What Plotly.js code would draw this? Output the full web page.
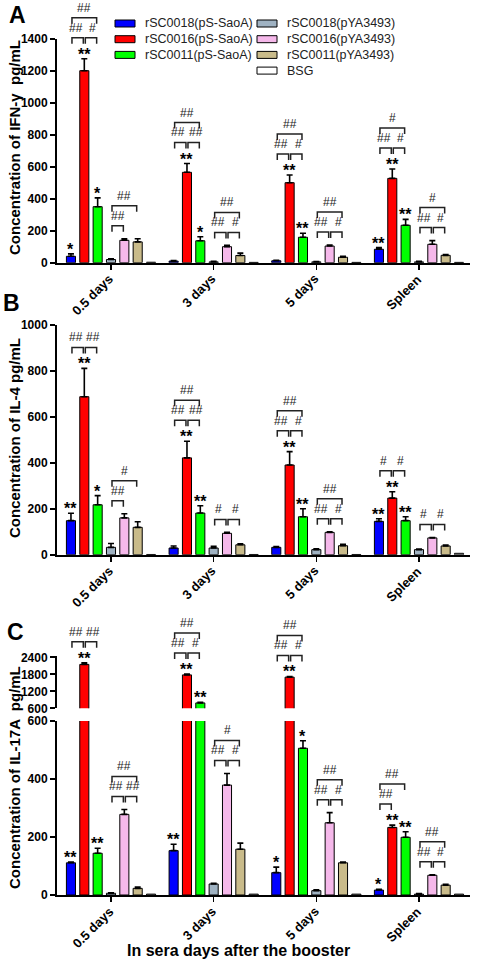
<!DOCTYPE html>
<html><head><meta charset="utf-8">
<script src="https://cdn.plot.ly/plotly-3.0.1.min.js"></script>
<style>html,body{margin:0;padding:0;background:#fff}#chart{width:485px;height:969px}</style>
</head><body><div id="chart"></div>
<script>
// ---------- DATA ----------
const groups = ['0.5 days', '3 days', '5 days', 'Spleen'];
const seriesNames = ['rSC0018(pS-SaoA)', 'rSC0016(pS-SaoA)', 'rSC0011(pS-SaoA)',
                     'rSC0018(pYA3493)', 'rSC0016(pYA3493)', 'rSC0011(pYA3493)', 'BSG'];
const seriesColors = ['#0000ff', '#ff0000', '#00ff00', '#9fb2c2', '#f5b8ea', '#c9bb8a', '#ffffff'];

// Panel A: IFN-γ (pg/mL)
const ifn_S18 = [40, 10, 12, 84];     const ifn_S18_err = [15, 4, 3, 10];
const ifn_S16 = [1200, 565, 500, 527]; const ifn_S16_err = [75, 55, 48, 59];
const ifn_S11 = [350, 137, 159, 234]; const ifn_S11_err = [55, 25, 25, 37];
const ifn_Y18 = [20, 5, 5, 5];        const ifn_Y18_err = [5, 3, 2, 3];
const ifn_Y16 = [140, 100, 104, 115]; const ifn_Y16_err = [10, 8, 6, 23];
const ifn_Y11 = [130, 45, 34, 46];    const ifn_Y11_err = [20, 15, 6, 5];
const ifn_BSG = [3, 2, 2, 2];         const ifn_BSG_err = [0, 0, 0, 0];

// Panel B: IL-4 (pg/mL)
const il4_S18 = [148, 29, 32, 145];   const il4_S18_err = [32, 9, 3, 11];
const il4_S16 = [687, 421, 390, 246]; const il4_S16_err = [123, 72, 58, 28];
const il4_S11 = [217, 181, 165, 148]; const il4_S11_err = [40, 32, 35, 17];
const il4_Y18 = [32, 29, 22, 22];     const il4_Y18_err = [17, 7, 4, 3];
const il4_Y16 = [160, 93, 97, 73];    const il4_Y16_err = [18, 4, 3, 2];
const il4_Y11 = [119, 43, 39, 38];    const il4_Y11_err = [24, 4, 6, 4];
const il4_BSG = [1, 1, 1, 6];         const il4_BSG_err = [0, 0, 0, 0];

// Panel C: IL-17A (pg/mL)
const il17_S18 = [111, 153, 77, 17];     const il17_S18_err = [3, 22, 19, 3];
const il17_S16 = [2150, 1780, 1700, 233]; const il17_S16_err = [60, 30, 25, 8];
const il17_S11 = [144, 790, 506, 199];   const il17_S11_err = [17, 20, 26, 19];
const il17_Y18 = [6, 38, 15, 3];         const il17_Y18_err = [2, 2, 3, 2];
const il17_Y16 = [278, 379, 249, 68];    const il17_Y16_err = [17, 40, 35, 2];
const il17_Y11 = [23, 158, 111, 34];     const il17_Y11_err = [4, 21, 3, 3];
const il17_BSG = [3, 3, 3, 3];           const il17_BSG_err = [0, 0, 0, 0];

// Significance vs BSG (stars) for the pS-SaoA strains
const ifn_stars_S18 = ['*', '', '', '**'];
const ifn_stars_S16 = ['**', '**', '**', '**'];
const ifn_stars_S11 = ['*', '*', '**', '**'];
const il4_stars_S18 = ['**', '', '', '**'];
const il4_stars_S16 = ['**', '**', '**', '**'];
const il4_stars_S11 = ['*', '**', '**', '**'];
const il17_stars_S18 = ['**', '**', '*', '*'];
const il17_stars_S16 = ['**', '**', '**', '**'];
const il17_stars_S11 = ['**', '**', '*', '**'];

// Brackets: [group, barFrom, barTo, level (0 lower, 1 upper), label]
const ifn_brackets = [
  [0,0,2,1,'##'],[0,0,1,0,'##'],[0,1,2,0,'#'],[0,3,5,1,'##'],[0,3,4,0,'##'],
  [1,0,2,1,'##'],[1,0,1,0,'##'],[1,1,2,0,'##'],[1,3,5,1,'##'],[1,3,4,0,'##'],[1,4,5,0,'#'],
  [2,0,2,1,'##'],[2,0,1,0,'##'],[2,1,2,0,'#'],[2,3,5,1,'##'],[2,3,4,0,'##'],[2,4,5,0,'#'],
  [3,0,2,1,'#'],[3,0,1,0,'##'],[3,1,2,0,'#'],[3,3,5,1,'#'],[3,3,4,0,'##'],[3,4,5,0,'#']
];
const il4_brackets = [
  [0,0,1,0,'##'],[0,1,2,0,'##'],[0,3,5,1,'#'],[0,3,4,0,'##'],
  [1,0,2,1,'##'],[1,0,1,0,'##'],[1,1,2,0,'##'],[1,3,4,0,'#'],[1,4,5,0,'#'],
  [2,0,2,1,'##'],[2,0,1,0,'##'],[2,1,2,0,'#'],[2,3,5,1,'##'],[2,3,4,0,'##'],[2,4,5,0,'#'],
  [3,0,1,0,'#'],[3,1,2,0,'#'],[3,3,4,0,'#'],[3,4,5,0,'#']
];
const il17_brackets = [
  [0,0,1,0,'##'],[0,1,2,0,'##'],[0,3,5,1,'##'],[0,3,4,0,'##'],[0,4,5,0,'##'],
  [1,0,2,1,'##'],[1,0,1,0,'##'],[1,1,2,0,'#'],[1,3,5,1,'#'],[1,3,4,0,'##'],[1,4,5,0,'#'],
  [2,0,2,1,'##'],[2,0,1,0,'##'],[2,1,2,0,'#'],[2,3,5,1,'##'],[2,3,4,0,'##'],[2,4,5,0,'#'],
  [3,0,2,1,'##'],[3,0,1,0,'##'],[3,3,5,1,'##'],[3,3,4,0,'##'],[3,4,5,0,'#']
];

// ---------- GEOMETRY / STYLE ----------
const W = 485, H = 969;
const FONT = 'Liberation Sans, Arial, sans-serif';
const XL = 57, XR = 470, XR0 = -0.526, XR1 = 3.497;
const BARGAP = 0.09, SLOT = (1 - BARGAP) / 7;

const panels = [
  { xa: 'x',  vals: [ifn_S18, ifn_S16, ifn_S11, ifn_Y18, ifn_Y16, ifn_Y11, ifn_BSG],
    errs: [ifn_S18_err, ifn_S16_err, ifn_S11_err, ifn_Y18_err, ifn_Y16_err, ifn_Y11_err, ifn_BSG_err],
    stars: [ifn_stars_S18, ifn_stars_S16, ifn_stars_S11], brackets: ifn_brackets,
    segs: [{ ya: 'y', bot: 262.7, top: 38.7, r: [0, 1400], ticks: [0,200,400,600,800,1000,1200,1400] }] },
  { xa: 'x2', vals: [il4_S18, il4_S16, il4_S11, il4_Y18, il4_Y16, il4_Y11, il4_BSG],
    errs: [il4_S18_err, il4_S16_err, il4_S11_err, il4_Y18_err, il4_Y16_err, il4_Y11_err, il4_BSG_err],
    stars: [il4_stars_S18, il4_stars_S16, il4_stars_S11], brackets: il4_brackets,
    segs: [{ ya: 'y2', bot: 554.7, top: 324.7, r: [0, 1000], ticks: [0,200,400,600,800,1000] }] },
  { xa: 'x3', vals: [il17_S18, il17_S16, il17_S11, il17_Y18, il17_Y16, il17_Y11, il17_BSG],
    errs: [il17_S18_err, il17_S16_err, il17_S11_err, il17_Y18_err, il17_Y16_err, il17_Y11_err, il17_BSG_err],
    stars: [il17_stars_S18, il17_stars_S16, il17_stars_S11], brackets: il17_brackets,
    segs: [{ ya: 'y3', bot: 895, top: 721, r: [0, 600], ticks: [0,200,400,600] },
           { ya: 'y4', bot: 708.3, top: 655.9, r: [600, 2450], ticks: [600,1200,1800,2400] }] }
];

function xPix(v) { return XL + (v - XR0) / (XR1 - XR0) * (XR - XL); }
function barX(g, i) { return g + (i - 3) * SLOT; }
function yPix(p, v) {
  let s = p.segs[0];
  if (p.segs.length > 1 && v > p.segs[0].r[1]) s = p.segs[1];
  return s.bot - (v - s.r[0]) / (s.r[1] - s.r[0]) * (s.bot - s.top);
}
const PX = px => px / W, PY = py => 1 - py / H;

// ---------- TRACES ----------
const traces = [];
panels.forEach((p, pi) => {
  p.segs.forEach((s, si) => {
    for (let i = 0; i < 7; i++) {
      const hasErr = p.errs[i].some(e => e > 0);
      traces.push({
        type: 'bar', x: [0, 1, 2, 3], y: p.vals[i], name: seriesNames[i],
        xaxis: p.xa, yaxis: s.ya,
        marker: { color: seriesColors[i], line: { color: '#000', width: 1 } },
        error_y: { type: 'data', symmetric: false, array: p.errs[i], arrayminus: [0,0,0,0],
                   color: '#000', thickness: 1.6, width: 3, visible: hasErr },
        showlegend: false, hoverinfo: 'skip'
      });
    }
  });
});

// ---------- ANNOTATIONS & SHAPES ----------
const annotations = [], shapes = [];
panels.forEach(p => {
  // stars
  for (let i = 0; i < 3; i++) {
    for (let g = 0; g < 4; g++) {
      const t = p.stars[i][g];
      if (!t) continue;
      const py = yPix(p, p.vals[i][g] + p.errs[i][g]);
      annotations.push({ xref: 'paper', yref: 'paper', x: PX(xPix(barX(g, i))), y: PY(py + 6),
        xanchor: 'center', yanchor: 'bottom', text: t, showarrow: false,
        font: { family: FONT, size: 16, color: '#000', weight: 'bold' } });
    }
  }
  // brackets
  p.brackets.forEach(([g, a, b, level, label]) => {
    const trio = a < 3 ? [0, 1, 2] : [3, 4, 5];
    let best = trio[0], topPx = Infinity;
    trio.forEach(i => { const y = yPix(p, p.vals[i][g] + p.errs[i][g]); if (y < topPx) { topPx = y; best = i; } });
    const starred = best < 3 && p.stars[best][g];
    const lowPx = topPx - (starred ? 21 : 13);
    const lineY = level === 0 ? lowPx : lowPx - 20;
    const x1 = xPix(barX(g, a)) + 1, x2 = xPix(barX(g, b)) - 1;
    const yl = PY(lineY), yt = PY(lineY + 6);
    shapes.push({ type: 'path', xref: 'paper', yref: 'paper',
      path: `M${PX(x1)},${yt} L${PX(x1)},${yl} L${PX(x2)},${yl} L${PX(x2)},${yt}`,
      line: { color: '#222', width: 1.5 } });
    // nudge adjacent lower labels apart
    let dx = 0;
    if (level === 0) {
      const mid = a < 3 ? 1 : 4;
      const twin = p.brackets.some(o => o[0] === g && o[3] === 0 &&
        ((a === mid - 1 && o[1] === mid) || (a === mid && o[2] === mid)));
      if (twin) dx = (a === mid - 1) ? -2 : 2;
    }
    annotations.push({ xref: 'paper', yref: 'paper', x: PX((x1 + x2) / 2 + dx), y: PY(lineY - 1),
      xanchor: 'center', yanchor: 'bottom', text: label, showarrow: false,
      font: { family: FONT, size: 12, color: '#222' } });
  });
  // x tick labels (rotated)
  const axisPx = p.segs[0].bot;
  groups.forEach((t, g) => annotations.push({ xref: 'paper', yref: 'paper',
    x: PX(xPix(g) + 8), y: PY(axisPx + 6), xanchor: 'right', yanchor: 'top', textangle: -45,
    text: t, showarrow: false, font: { family: FONT, size: 13, color: '#000', weight: 'bold' } }));
});

// axis titles and panel letters
const yTitles = [['Concentration of IFN-γ  pg/mL', 148], ['Concentration of IL-4 pg/mL', 438], ['Concentration of IL-17A  pg/mL', 778]];
yTitles.forEach(([t, cy]) => annotations.push({ xref: 'paper', yref: 'paper', x: PX(14), y: PY(cy),
  xanchor: 'center', yanchor: 'middle', textangle: -90, text: t, showarrow: false,
  font: { family: FONT, size: 15, color: '#000', weight: 'bold' } }));
[['A', 17, 15], ['B', 11, 303], ['C', 15, 632]].forEach(([t, x, y]) => annotations.push({
  xref: 'paper', yref: 'paper', x: PX(x), y: PY(y), xanchor: 'center', yanchor: 'middle', text: t,
  showarrow: false, font: { family: FONT, size: 23, color: '#000', weight: 'bold' } }));
annotations.push({ xref: 'paper', yref: 'paper', x: PX(238), y: PY(950), xanchor: 'center', yanchor: 'middle',
  text: 'In sera days after the booster', showarrow: false,
  font: { family: FONT, size: 16, color: '#000', weight: 'bold' } });

// legend (two columns, drawn as swatches + text)
const legendCols = [{ sx: 115, tx: 143, items: [0, 1, 2] }, { sx: 257, tx: 285, items: [3, 4, 5, 6] }];
legendCols.forEach(c => c.items.forEach((i, r) => {
  const cy = 23.5 + r * 15.7;
  shapes.push({ type: 'rect', xref: 'paper', yref: 'paper', x0: PX(c.sx), x1: PX(c.sx + 20),
    y0: PY(cy + 3.5), y1: PY(cy - 3.5), fillcolor: seriesColors[i], line: { color: '#000', width: 1 } });
  annotations.push({ xref: 'paper', yref: 'paper', x: PX(c.tx), y: PY(cy), xanchor: 'left', yanchor: 'middle',
    text: seriesNames[i], showarrow: false, font: { family: FONT, size: 12.5, color: '#222' } });
}));

// ---------- LAYOUT ----------
function xAxis(anchor) {
  return { domain: [XL / W, XR / W], range: [XR0, XR1], anchor, tickmode: 'array', tickvals: [0, 1, 2, 3],
    ticktext: groups, showticklabels: false, ticks: 'outside', ticklen: 5, tickwidth: 1.5, tickcolor: '#000',
    showline: true, linecolor: '#000', linewidth: 2, showgrid: false, zeroline: false, fixedrange: true };
}
function yAxis(s, anchor) {
  return { domain: [1 - s.bot / H, 1 - s.top / H], range: s.r, anchor, tickmode: 'array', tickvals: s.ticks,
    ticks: 'outside', ticklen: 5, tickwidth: 2, tickcolor: '#000', showline: true, linecolor: '#000',
    linewidth: 2, showgrid: false, zeroline: false, fixedrange: true,
    tickfont: { family: FONT, size: 12, color: '#000', weight: 'bold' } };
}
const layout = {
  width: W, height: H, margin: { l: 0, r: 0, t: 0, b: 0 },
  paper_bgcolor: '#fff', plot_bgcolor: 'rgba(0,0,0,0)',
  barmode: 'group', bargap: BARGAP, bargroupgap: 0.32,
  xaxis: xAxis('y'), yaxis: yAxis(panels[0].segs[0], 'x'),
  xaxis2: xAxis('y2'), yaxis2: yAxis(panels[1].segs[0], 'x2'),
  xaxis3: xAxis('y3'), yaxis3: yAxis(panels[2].segs[0], 'x3'),
  yaxis4: yAxis(panels[2].segs[1], 'x3'),
  annotations, shapes, showlegend: false
};
Plotly.newPlot('chart', traces, layout, { displayModeBar: false, staticPlot: true });
</script>
</body></html>
